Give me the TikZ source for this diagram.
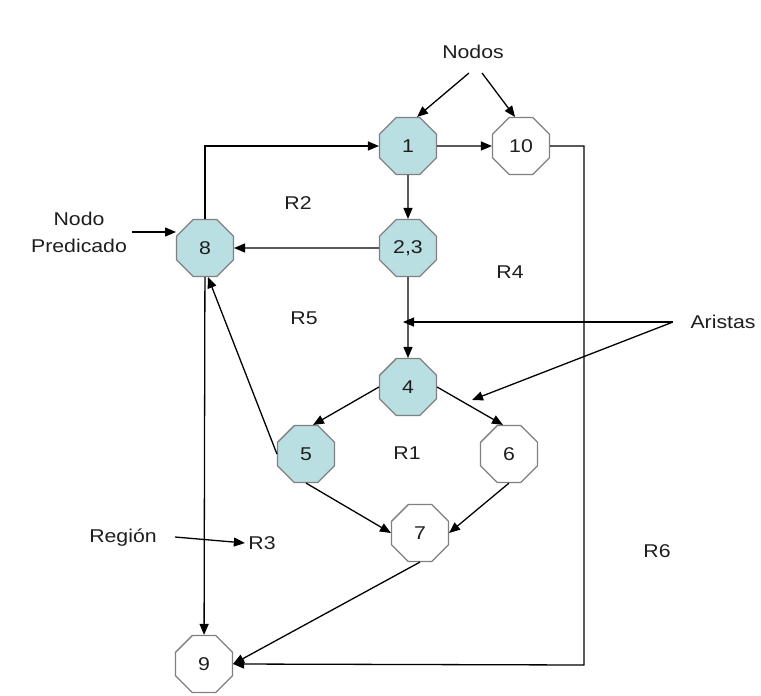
\documentclass[tikz,border=0pt]{standalone}
\usepackage{fontspec}
\setmainfont{Liberation Sans}[FakeStretch=1.15]
\usetikzlibrary{shapes.geometric,arrows.meta}
\definecolor{predfill}{RGB}{185,223,227}
\definecolor{octedge}{RGB}{128,128,128}
\definecolor{ink}{RGB}{30,30,30}
\tikzset{
  oct/.style={regular polygon, regular polygon sides=8, minimum size=61.5pt,
    inner sep=0pt, draw=octedge, line width=1.3pt, fill=white,
    font=\fontsize{18.5}{21}\selectfont, text=ink},
  pred/.style={oct, fill=predfill},
  edge/.style={draw=black, line width=1.3pt, -{Triangle[length=11pt,width=9pt]}},
  note/.style={font=\fontsize{18.5}{27}\selectfont, text=ink, align=center},
  region/.style={font=\fontsize{18.5}{21}\selectfont, text=ink}
}
\begin{document}
\begin{tikzpicture}[x=1pt,y=-1pt]
\useasboundingbox[fill=white] (0,0) rectangle (761,696);

% flow graph nodes
\node[pred] (n1)  at (408,146) {1};
\node[oct]  (n10) at (521,146) {10};
\node[pred] (n23) at (408,248) {2,3};
\node[pred] (n8)  at (205,248) {8};
\node[pred] (n4)  at (408,387) {4};
\node[pred] (n5)  at (306,454) {5};
\node[oct]  (n6)  at (509,454) {6};
\node[oct]  (n7)  at (420,533) {7};
\node[oct]  (n9)  at (204,664) {9};

% edges of the flow graph
\draw[edge] (n8.north) |- (n1.west);
\draw[edge] (n1) -- (n10);
\draw[edge] (n1) -- (n23);
\draw[edge] (n23) -- (n8);
\draw[edge] (n23) -- (n4);
\draw[edge] (n4.west) -- ([xshift=7pt]n5.north);
\draw[edge] (n4.east) -- ([xshift=-6pt]n6.north);
\draw[edge] (n5.west) -- ([xshift=3pt]n8.south);
\draw[edge] (n5.south) -- (n7.west);
\draw[edge] (n6.south) -- (n7.east);
\draw[edge] (n7.south) -- (n9.east);
\draw[edge] (n8) -- (n9);
\coordinate (rcorner) at (584,665);
\draw[edge] (n10.east) -| (rcorner) -- (n9.east);

% region labels
\node[region] (r1) at (407,453) {R1};
\node[region] (r2) at (298,203) {R2};
\node[region] (r3) at (262,543) {R3};
\node[region] (r4) at (510,272) {R4};
\node[region] (r5) at (304,318) {R5};
\node[region] (r6) at (657,551) {R6};

% annotations
\node[note] (nodos) at (473,52) {Nodos};
\coordinate (nodosl) at (469,73);
\coordinate (nodosr) at (482,73);
\draw[edge] (nodosl) -- ([xshift=9pt]n1.north);
\draw[edge] (nodosr) -- ([xshift=-6pt]n10.north);

\node[note] (predlbl) at (79,232) {Nodo\\Predicado};
\coordinate (preds) at (132,232);
\coordinate (prede) at (176,232);
\draw[edge] (preds) -- (prede);

\node[note, anchor=west] (aristas) at (687,322) {Aristas};
\coordinate (arists) at (673,322);
\coordinate (aristh) at (403,322);
\coordinate (aristd) at (472,400);
\draw[edge] (arists) -- (aristh);
\draw[edge] (arists) -- (aristd);

\node[note] (region) at (123,538) {Región};
\coordinate (regs) at (175,537);
\draw[edge] (regs) -- (r3.west);
\end{tikzpicture}
\end{document}
